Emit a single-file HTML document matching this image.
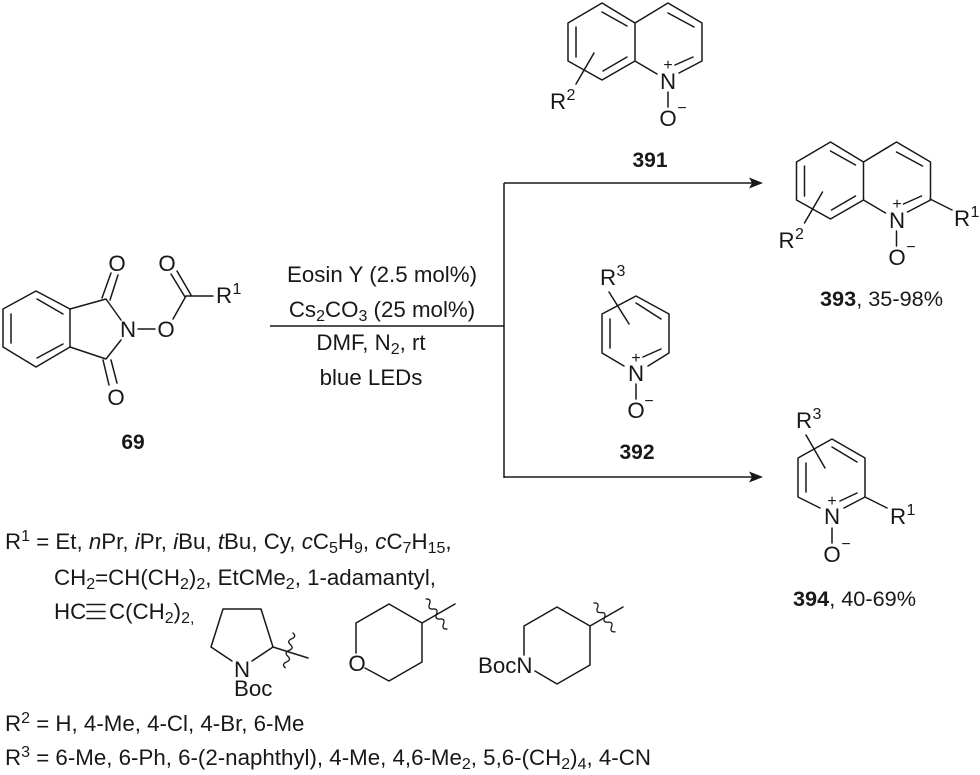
<!DOCTYPE html>
<html><head><meta charset="utf-8"><style>
html,body{margin:0;padding:0;background:#fff;width:980px;height:775px;overflow:hidden}
svg{display:block}
text{font-family:"Liberation Sans",Arial,sans-serif;font-size:22.3px;fill:#181818}
.b{font-weight:bold;font-size:21px}
.s{font-size:16px}
.l{font-size:22.3px}
.r{font-size:21.7px}
.r .b{font-size:21.7px}
</style></head><body>
<svg width="980" height="775" viewBox="0 0 980 775" xmlns="http://www.w3.org/2000/svg">
<g fill="none" stroke="#181818" stroke-width="1.5" stroke-linecap="round" stroke-linejoin="round">
<!-- 69 -->
<path d="M36 291L70 309V347L36 367L3 347V309Z"/>
<path d="M37 299L63 314M11 314V343M37 358L63 344"/>
<path d="M70 309L106 299L121 320M70 347L106 359L121 340"/>
<path d="M102 298L111 273M110 300L118 275M103 360L109 385M111 360L117 383"/>
<path d="M138 329H155M173 319L186 296M171 274L185 297M177 271L191 295M186 296H213"/>
<!-- 391 -->
<path d="M602 3L568 23V61L602 80L635 61V23ZM635 23L668 3L702 23V61L679 73M675 65L693 57M635 61L657 74"/>
<path d="M602 12L627 26M576 27V57M603 71L627 57M668 13L694 27M668 92V107M594 53L576 84"/>
<!-- 393 -->
<g transform="translate(228.5,139)">
<path d="M602 3L568 23V61L602 80L635 61V23ZM635 23L668 3L702 23V61L679 73M675 65L693 57M635 61L657 74"/>
<path d="M602 12L627 26M576 27V57M603 71L627 57M668 13L694 27M668 92V107M594 53L576 84"/>
</g>
<path d="M930 199L952 210"/>
<!-- 392 -->
<path d="M624 366L602 353V314L636 296L669 314V353L648 366M636 303L661 319M610 319V348M643 357L661 349M609 292L629 324M636 384V399"/>
<!-- 394 -->
<path d="M820 508L798 497V458L832 439L865 458V497L844 508M832 447L857 462M806 463V492M840 501L857 493M806 435L825 468M865 497L887 508M832 528V543"/>
<!-- arrows -->
<path d="M270 326H504M504 183V478M504 183H752M504 477H752" stroke-linecap="butt"/>
<!-- triple bond -->
<path d="M87 604.500H105M87 611.500H105M87 618.500H105"/>
<!-- pyrrolidine -->
<path d="M232 661L211 647L223 609H261L273 647L252 661M273 647L308 658"/>
<path d="M293 633q4 3.500 -1.300 5.800t-1.300 5.800t-1.300 5.800t-1.300 5.800t-1.300 5.800t-1.300 5.800" stroke-width="1.300"/>
<!-- THP -->
<path d="M356 653V623L389 604L422 623V662L389 681L365 668M422 623L455 604"/>
<path d="M426 599q5.500 -0.500 3.500 5t3.500 5t3.500 5t3.500 5t3.500 5t3.500 5" stroke-width="1.300"/>
<!-- piperidine -->
<path d="M524 655V626L557 607L590 626V665L557 684L535 671M590 626L623 607"/>
<path d="M594 603q5.500 -0.500 3.500 4.800t3.500 4.800t3.500 4.800t3.500 4.800t3.500 4.800t3.500 4.800" stroke-width="1.300"/>
</g>
<path d="M763 183L749 177.500L752 183L749 188.500Z M763 477L749 471.500L752 477L749 482.500Z" fill="#181818"/>

<!-- 69 labels -->
<text x="117" y="271" text-anchor="middle">O</text>
<text x="116" y="405" text-anchor="middle">O</text>
<text x="128" y="337" text-anchor="middle">N</text>
<text x="166" y="337" text-anchor="middle">O</text>
<text x="167" y="271" text-anchor="middle">O</text>
<text x="216" y="303">R</text><text class="s" x="232.500" y="294">1</text>
<text class="b" x="133" y="449" text-anchor="middle">69</text>

<!-- 391 labels -->
<text x="668" y="89" text-anchor="middle">N</text>
<text class="s" x="668" y="70" text-anchor="middle">+</text>
<text x="668" y="126" text-anchor="middle">O</text>
<text class="s" x="682" y="113" text-anchor="middle">−</text>
<text x="550" y="109">R</text><text class="s" x="566.500" y="100">2</text>
<text class="b" x="650" y="167" text-anchor="middle">391</text>

<!-- 393 labels -->
<text x="897" y="228" text-anchor="middle">N</text>
<text class="s" x="897" y="209" text-anchor="middle">+</text>
<text x="897" y="265" text-anchor="middle">O</text>
<text class="s" x="911" y="252" text-anchor="middle">−</text>
<text x="954" y="226">R</text><text class="s" x="970.500" y="217">1</text>
<text x="778.500" y="248">R</text><text class="s" x="795" y="239">2</text>
<text class="r" x="820" y="306"><tspan class="b">393</tspan>, 35-98%</text>

<!-- 392 labels -->
<text x="636" y="381" text-anchor="middle">N</text>
<text class="s" x="636" y="363" text-anchor="middle">+</text>
<text x="636" y="418" text-anchor="middle">O</text>
<text class="s" x="649" y="406" text-anchor="middle">−</text>
<text x="600" y="285">R</text><text class="s" x="616.500" y="276">3</text>
<text class="b" x="637" y="459" text-anchor="middle">392</text>

<!-- 394 labels -->
<text x="832" y="524" text-anchor="middle">N</text>
<text class="s" x="832" y="506" text-anchor="middle">+</text>
<text x="832" y="562" text-anchor="middle">O</text>
<text class="s" x="846" y="549" text-anchor="middle">−</text>
<text x="796" y="428">R</text><text class="s" x="812.500" y="419">3</text>
<text x="890" y="524">R</text><text class="s" x="906.500" y="515">1</text>
<text class="r" x="793" y="606"><tspan class="b">394</tspan>, 40-69%</text>

<!-- conditions -->
<text class="l" x="382" y="282" text-anchor="middle">Eosin Y (2.5 mol%)</text>
<text class="l" x="382" y="317" text-anchor="middle">Cs<tspan class="s" dy="4">2</tspan><tspan dy="-4">CO</tspan><tspan class="s" dy="4">3</tspan><tspan dy="-4"> (25 mol%)</tspan></text>
<text class="l" x="371" y="350" text-anchor="middle">DMF, N<tspan class="s" dy="4">2</tspan><tspan dy="-4">, rt</tspan></text>
<text class="l" x="371" y="385" text-anchor="middle">blue LEDs</text>

<!-- bottom text -->
<text class="l" x="5" y="549">R<tspan class="s" dy="-8">1</tspan><tspan dy="8"> = Et, </tspan><tspan font-style="italic">n</tspan>Pr, <tspan font-style="italic">i</tspan>Pr, <tspan font-style="italic">i</tspan>Bu, <tspan font-style="italic">t</tspan>Bu, Cy, <tspan font-style="italic">c</tspan>C<tspan class="s" dy="4">5</tspan><tspan dy="-4">H</tspan><tspan class="s" dy="4">9</tspan><tspan dy="-4">, </tspan><tspan font-style="italic">c</tspan>C<tspan class="s" dy="4">7</tspan><tspan dy="-4">H</tspan><tspan class="s" dy="4">15</tspan><tspan dy="-4">,</tspan></text>
<text class="l" x="54" y="585">CH<tspan class="s" dy="4">2</tspan><tspan dy="-4">=CH(CH</tspan><tspan class="s" dy="4">2</tspan><tspan dy="-4">)</tspan><tspan class="s" dy="4">2</tspan><tspan dy="-4">, EtCMe</tspan><tspan class="s" dy="4">2</tspan><tspan dy="-4">, 1-adamantyl,</tspan></text>
<text class="l" x="54" y="619">HC</text>
<text class="l" x="109" y="619">C(CH<tspan class="s" dy="4">2</tspan><tspan dy="-4">)</tspan><tspan class="s" dy="4">2,</tspan></text>
<text x="242" y="677" text-anchor="middle">N</text>
<text x="234" y="696">Boc</text>
<text x="357" y="671" text-anchor="middle">O</text>
<text x="478" y="673">BocN</text>
<text class="l" x="5" y="731">R<tspan class="s" dy="-8">2</tspan><tspan dy="8"> = H, 4-Me, 4-Cl, 4-Br, 6-Me</tspan></text>
<text class="l" x="5" y="765">R<tspan class="s" dy="-8">3</tspan><tspan dy="8"> = 6-Me, 6-Ph, 6-(2-naphthyl), 4-Me, 4,6-Me</tspan><tspan class="s" dy="4">2</tspan><tspan dy="-4">, 5,6-(CH</tspan><tspan class="s" dy="4">2</tspan><tspan dy="-4">)</tspan><tspan class="s" dy="4">4</tspan><tspan dy="-4">, 4-CN</tspan></text>
</svg>
</body></html>
